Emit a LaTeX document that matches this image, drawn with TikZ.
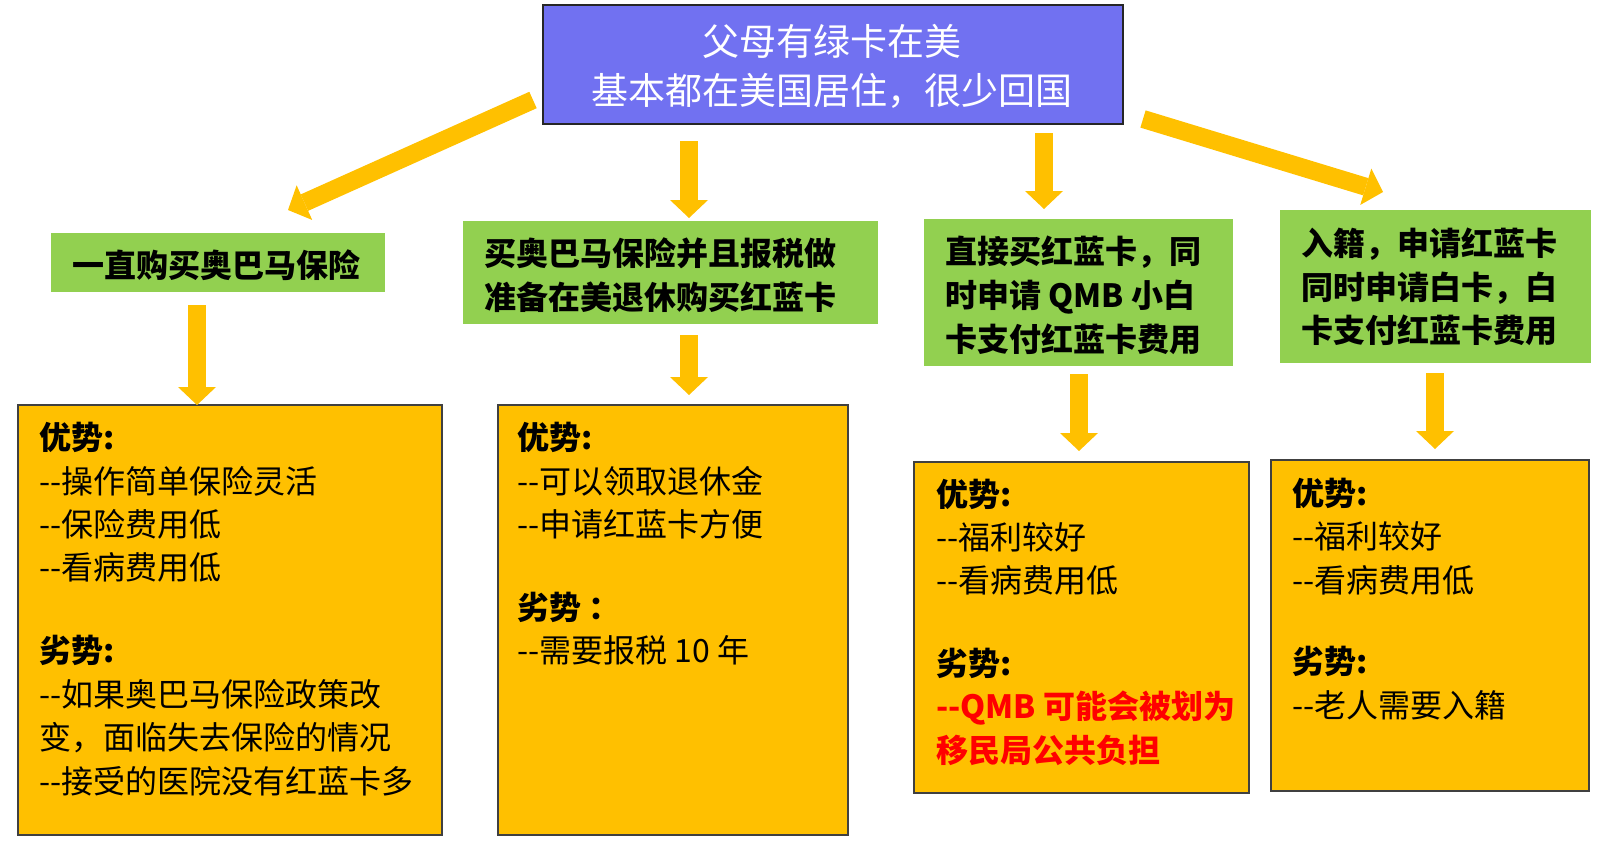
\documentclass[tikz,border=0pt]{standalone}
\usepackage{fontspec}
\setmainfont{Noto Sans CJK SC}[Ligatures=TeXOff]
\usetikzlibrary{arrows.meta}
\definecolor{topblue}{HTML}{7171F1}
\definecolor{grn}{HTML}{92D050}
\definecolor{org}{HTML}{FFC000}
\definecolor{redt}{HTML}{FF0000}
\tikzset{
  boxbase/.style={rectangle, inner sep=0pt, outer sep=0pt, anchor=north west},
  topbox/.style={boxbase, fill=topblue, draw=black!85, line width=1.2pt},
  greenbox/.style={boxbase, fill=grn, draw=none},
  orangebox/.style={boxbase, fill=org, draw=black!75, line width=1.2pt},
  txt/.style={inner sep=0pt, outer sep=0pt, anchor=base west, font=\fontsize{32}{38}\selectfont},
  gtxt/.style={txt, font=\fontsize{32}{38}\selectfont\bfseries},
  barrow/.style={draw=org, line width=18pt, line cap=butt,
    -{Triangle[width=38pt,length=18pt,line width=0pt]}}
}
\begin{document}
\begin{tikzpicture}[x=1pt,y=-1pt]
\useasboundingbox (0,0) rectangle (1600,862);
% boxes
\node[topbox, minimum width=580pt, minimum height=119pt] (top) at (543,5) {};
\node[greenbox, minimum width=334pt, minimum height=59pt] (g1) at (51,233) {};
\node[greenbox, minimum width=415pt, minimum height=103pt] (g2) at (463,221) {};
\node[greenbox, minimum width=309pt, minimum height=147pt] (g3) at (924,219) {};
\node[greenbox, minimum width=311pt, minimum height=153pt] (g4) at (1280,210) {};
\node[orangebox, minimum width=424pt, minimum height=430pt] (o1) at (18,405) {};
\node[orangebox, minimum width=350pt, minimum height=430pt] (o2) at (498,405) {};
\node[orangebox, minimum width=335pt, minimum height=331pt] (o3) at (914,462) {};
\node[orangebox, minimum width=318pt, minimum height=331pt] (o4) at (1271,460) {};

% top text
\node[inner sep=0pt, anchor=base, text=white, font=\fontsize{37}{44}\selectfont] (t1) at (832,55) {父母有绿卡在美};
\node[inner sep=0pt, anchor=base, text=white, font=\fontsize{37}{44}\selectfont] (t2) at (832,104) {基本都在美国居住，很少回国};

% green texts
\node[gtxt] (g1t) at (72,277) {一直购买奥巴马保险};
\node[gtxt] (g2a) at (484,265) {买奥巴马保险并且报税做};
\node[gtxt] (g2b) at (484,309) {准备在美退休购买红蓝卡};
\node[gtxt] (g3a) at (945,263) {直接买红蓝卡，同};
\node[gtxt] (g3b) at (945,307) {时申请 QMB 小白};
\node[gtxt] (g3c) at (945,351) {卡支付红蓝卡费用};
\node[gtxt] (g4a) at (1301,255) {入籍，申请红蓝卡};
\node[gtxt] (g4b) at (1301,299) {同时申请白卡，白};
\node[gtxt] (g4c) at (1301,342) {卡支付红蓝卡费用};

% orange texts
\foreach \yy/\s [count=\i] in {449/\textbf{优势:}, 493/--操作简单保险灵活, 536/--保险费用低, 579/--看病费用低,
  662/\textbf{劣势:}, 706/--如果奥巴马保险政策改, 749/变，面临失去保险的情况, 793/--接受的医院没有红蓝卡多}
  \node[txt] (oa\i) at (39,\yy) {\s};
\foreach \yy/\s [count=\i] in {449/\textbf{优势:}, 493/--可以领取退休金, 536/--申请红蓝卡方便,
  619/\textbf{劣势 ：}, 662/--需要报税 10 年}
  \node[txt] (ob\i) at (517,\yy) {\s};
\foreach \yy/\s [count=\i] in {506/\textbf{优势:}, 549/--福利较好, 592/--看病费用低, 675/\textbf{劣势:}}
  \node[txt] (oc\i) at (936,\yy) {\s};
\node[txt, text=redt, font=\fontsize{32}{38}\selectfont\bfseries] (oc5) at (936,718) {--QMB 可能会被划为};
\node[txt, text=redt, font=\fontsize{32}{38}\selectfont\bfseries] (oc6) at (936,762) {移民局公共负担};
\foreach \yy/\s [count=\i] in {505/\textbf{优势:}, 548/--福利较好, 592/--看病费用低, 673/\textbf{劣势:}, 717/--老人需要入籍}
  \node[txt] (od\i) at (1292,\yy) {\s};

% arrow end points
\coordinate (aLs) at (533,100); \coordinate (aLe) at (288,210);
\coordinate (aV1s) at (689,141); \coordinate (aV1e) at (689,218);
\coordinate (aV2s) at (1044,133); \coordinate (aV2e) at (1044,209);
\coordinate (aRs) at (1143,119); \coordinate (aRe) at (1383,192);
\coordinate (b1s) at (197,305); \coordinate (b1e) at (197,405);
\coordinate (b2s) at (689,335); \coordinate (b2e) at (689,395);
\coordinate (b3s) at (1079,374); \coordinate (b3e) at (1079,451);
\coordinate (b4s) at (1435,373); \coordinate (b4e) at (1435,449);

\draw[barrow] (aLs) -- (aLe);
\draw[barrow] (aV1s) -- (aV1e);
\draw[barrow] (aV2s) -- (aV2e);
\draw[barrow] (aRs) -- (aRe);
\draw[barrow] (b1s) -- (b1e);
\draw[barrow] (b2s) -- (b2e);
\draw[barrow] (b3s) -- (b3e);
\draw[barrow] (b4s) -- (b4e);
\end{tikzpicture}
\end{document}
